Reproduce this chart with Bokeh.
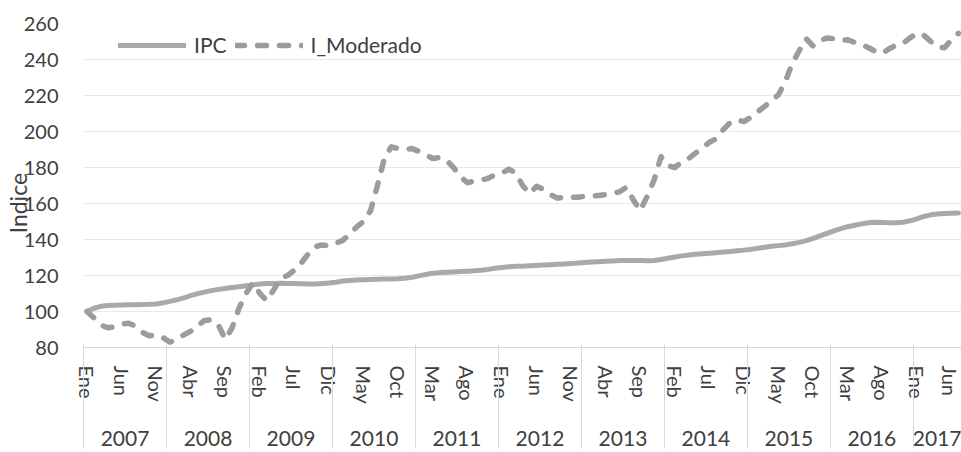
import math
from bokeh.plotting import figure
from bokeh.models import Range1d, FixedTicker, LinearAxis, Legend, LegendItem
from bokeh.embed import file_html
from bokeh.resources import INLINE

# ---------------- data ----------------
month_names = ["Ene", "Feb", "Mar", "Abr", "May", "Jun", "Jul", "Ago", "Sep", "Oct", "Nov", "Dic"]
years = [2007, 2008, 2009, 2010, 2011, 2012, 2013, 2014, 2015, 2016, 2017]
y_ticks = [80, 100, 120, 140, 160, 180, 200, 220, 240, 260]

ipc = [
    100.0, 101.8, 102.9, 103.3, 103.5, 103.6, 103.7, 103.8, 103.9, 104.0, 104.2, 104.8,  # 2007
    105.6, 106.5, 107.6, 108.8, 109.9, 110.8, 111.6, 112.3, 112.8, 113.3, 113.8, 114.3,  # 2008
    114.8, 115.3, 115.5, 115.6, 115.7, 115.6, 115.5, 115.4, 115.3, 115.3, 115.5, 115.8,  # 2009
    116.3, 116.9, 117.2, 117.5, 117.7, 117.8, 117.9, 118.0, 118.1, 118.2, 118.5, 119.0,  # 2010
    119.8, 120.6, 121.3, 121.6, 121.8, 122.0, 122.2, 122.4, 122.6, 122.9, 123.4, 124.0,  # 2011
    124.5, 124.9, 125.1, 125.2, 125.4, 125.6, 125.8, 126.0, 126.2, 126.4, 126.6, 126.9,  # 2012
    127.2, 127.5, 127.7, 127.9, 128.1, 128.3, 128.3, 128.3, 128.3, 128.2, 128.3, 128.9,  # 2013
    129.6, 130.3, 130.9, 131.4, 131.8, 132.1, 132.4, 132.7, 133.0, 133.3, 133.7, 134.1,  # 2014
    134.5, 135.1, 135.7, 136.2, 136.6, 137.0, 137.6, 138.4, 139.4, 140.6, 142.0, 143.4,  # 2015
    144.8, 146.0, 147.1, 147.9, 148.7, 149.3, 149.6, 149.5, 149.3, 149.3, 149.6, 150.4,  # 2016
    151.5, 152.8, 153.7, 154.2, 154.5, 154.6, 154.7,                                      # 2017
]

i_moderado = [
    100.0, 96.5, 92.5, 91.0, 91.5, 93.0, 93.5, 92.0, 88.5, 86.5, 87.0, 85.5,             # 2007
    83.0, 84.5, 87.0, 89.0, 92.0, 95.0, 95.5, 92.5, 84.5, 91.0, 102.0, 110.0,            # 2008
    116.0, 110.0, 106.0, 112.0, 118.5, 120.0, 123.0, 127.0, 132.0, 136.0, 137.0, 136.5,  # 2009
    138.0, 139.5, 143.0, 147.0, 150.0, 156.0, 170.0, 185.0, 191.5, 190.5, 190.0, 190.5,  # 2010
    189.0, 187.0, 185.0, 185.5, 184.0, 180.0, 175.0, 171.5, 172.5, 173.0, 174.0, 176.0,  # 2011
    177.0, 179.0, 177.0, 170.0, 165.5, 169.5, 168.0, 165.0, 163.0, 163.5, 163.5, 163.5,  # 2012
    164.0, 164.0, 164.5, 165.0, 165.5, 166.5, 169.0, 162.0, 156.0, 164.0, 173.0, 186.0,  # 2013
    181.0, 180.0, 183.0, 185.0, 188.0, 191.0, 194.0, 196.0, 201.0, 205.0, 206.5, 205.5,  # 2014
    208.0, 211.0, 214.0, 217.0, 220.5, 228.0, 238.0, 245.0, 251.5, 247.5, 250.5, 252.0,  # 2015
    251.5, 250.5, 251.0, 249.5, 248.5, 246.5, 244.5, 243.5, 246.0, 248.0, 249.0, 252.0,  # 2016
    254.5, 253.5, 250.0, 247.0, 246.5, 251.0, 254.5,                                      # 2017
]

n = len(ipc)
xs = list(range(n))

# month ticks every 5 months, year groups
month_ticks = list(range(0, n, 5))
month_overrides = {t: month_names[t % 12] for t in month_ticks}
year_bounds = [12 * k - 0.5 for k in range(len(years))]
year_centers = [(12 * k - 0.5 + min(12 * k + 11.5, n - 0.5)) / 2 for k in range(len(years))]
year_overrides = {c: str(y) for c, y in zip(year_centers, years)}

FONT = "Lato"
TXT = "#404040"
SEP = "#d9d9d9"

p = figure(width=961, height=452, output_backend="svg", toolbar_location=None,
           x_range=Range1d(-0.5, 126.45), y_range=Range1d(80, 260),
           min_border_left=80, min_border_right=0, min_border_top=23, min_border_bottom=105)
p.outline_line_color = None
p.background_fill_color = "white"
p.border_fill_color = "white"

# lines
r_ipc = p.line(xs, ipc, line_width=5, color="#a9a9a9", line_join="round", line_cap="round")
r_mod = p.line(xs, i_moderado, line_width=5.5, color="#9c9c9c", line_dash="9 13",
               line_cap="round", line_join="round")

# y axis (title overlaps tick labels like in the original)
p.yaxis.ticker = FixedTicker(ticks=y_ticks)
p.yaxis.axis_line_color = None
p.yaxis.major_tick_line_color = None
p.yaxis.minor_tick_line_color = None
p.yaxis.major_tick_out = 0
p.yaxis.major_label_standoff = 25
p.yaxis.major_label_text_font = FONT
p.yaxis.major_label_text_font_size = "20px"
p.yaxis.major_label_text_color = TXT
p.yaxis.axis_label = "Indice" + "\u00a0" * 6
p.yaxis.axis_label_standoff = -11
p.yaxis.axis_label_text_font = FONT
p.yaxis.axis_label_text_font_size = "23px"
p.yaxis.axis_label_text_font_style = "normal"
p.yaxis.axis_label_text_color = TXT

p.ygrid.ticker = FixedTicker(ticks=y_ticks)
p.ygrid.grid_line_color = "#e9e9e9"
p.xgrid.visible = False

# month axis
xa = p.xaxis[0]
xa.ticker = FixedTicker(ticks=month_ticks, minor_ticks=[])
xa.major_label_overrides = month_overrides
xa.major_label_orientation = "vertical"
xa.major_tick_line_color = None
xa.minor_tick_line_color = None
xa.major_tick_out = 0
xa.major_tick_in = 0
xa.minor_tick_out = 0
xa.axis_line_color = SEP
xa.major_label_standoff = 18
xa.major_label_text_font = FONT
xa.major_label_text_font_size = "20px"
xa.major_label_text_color = TXT

# year axis
ya = LinearAxis(ticker=FixedTicker(ticks=year_centers, minor_ticks=[]),
                major_label_overrides=year_overrides)
ya.axis_line_color = None
ya.major_tick_line_color = None
ya.minor_tick_line_color = None
ya.major_tick_out = 0
ya.major_tick_in = 0
ya.minor_tick_out = 0
ya.major_label_standoff = 24
ya.major_label_text_font = FONT
ya.major_label_text_font_size = "21px"
ya.major_label_text_color = TXT
p.add_layout(ya, "below")

# bottom-most axis carrying only the year separators (ticks pointing up)
sa = LinearAxis(ticker=FixedTicker(ticks=[], minor_ticks=year_bounds))
sa.axis_line_color = None
sa.major_tick_line_color = None
sa.major_tick_out = 0
sa.major_tick_in = 0
sa.major_label_text_font_size = "0px"
sa.major_label_standoff = 0
sa.minor_tick_line_color = SEP
sa.minor_tick_out = 0
sa.minor_tick_in = 104
p.add_layout(sa, "below")

legend = Legend(items=[LegendItem(label="IPC", renderers=[r_ipc]),
                       LegendItem(label="I_Moderado", renderers=[r_mod])],
                orientation="horizontal", location=(35, 290),
                glyph_width=68, glyph_height=24, label_standoff=8, spacing=8,
                padding=0, margin=0, background_fill_alpha=0, border_line_color=None,
                label_text_font=FONT, label_text_font_size="21px", label_text_color=TXT)
p.add_layout(legend)

open("out.html", "w").write(file_html(p, INLINE))
